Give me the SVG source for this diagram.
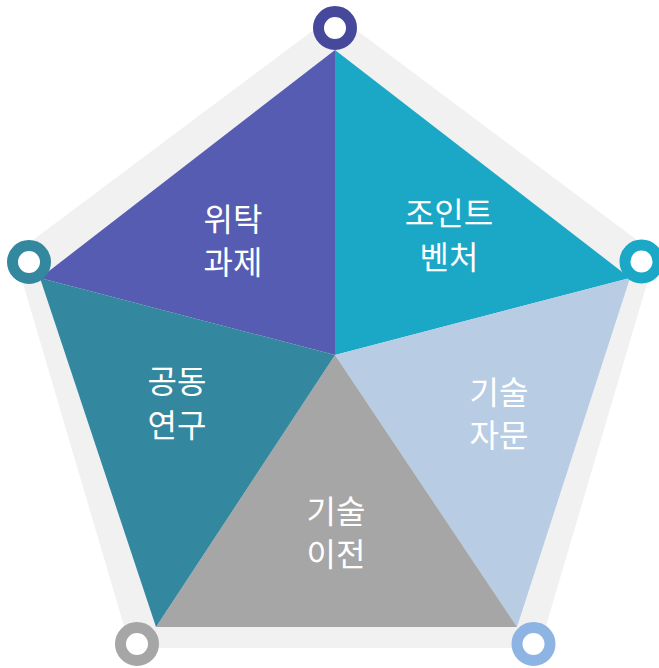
<svg xmlns="http://www.w3.org/2000/svg" width="659" height="668" viewBox="0 0 659 668">
<style>
.lbl{font-family:"Noto Sans CJK KR","Noto Sans",sans-serif;font-size:32px;fill:#ffffff;text-anchor:middle}
.ring{fill:#ffffff;stroke-width:11}
</style>
<rect width="659" height="668" fill="#ffffff"/>
<g id="frame">
<polygon points="335,14 655.7,254 539.5,648 130.5,648 14.3,254" fill="#f1f1f1"/>
</g>
<g id="seg-witak">
<polygon points="335,50 335,355 40,278" fill="#565cb2"/>
<text class="lbl" x="233" y="231">위탁</text>
<text class="lbl" x="233" y="274">과제</text>
</g>
<g id="seg-joint">
<polygon points="335,50 630,278 335,355" fill="#1ba8c6"/>
<text class="lbl" x="449" y="225">조인트</text>
<text class="lbl" x="449" y="269">벤처</text>
</g>
<g id="seg-jamun">
<polygon points="335,355 630,278 517,627" fill="#b8cce4"/>
<text class="lbl" x="499" y="404">기술</text>
<text class="lbl" x="499" y="447">자문</text>
</g>
<g id="seg-ijeon">
<polygon points="335,355 517,627 156,627" fill="#a6a6a6"/>
<text class="lbl" x="336" y="523">기술</text>
<text class="lbl" x="336" y="566">이전</text>
</g>
<g id="seg-gongdong">
<polygon points="335,355 156,627 40,278" fill="#33879e"/>
<text class="lbl" x="177" y="393">공동</text>
<text class="lbl" x="177" y="437">연구</text>
</g>
<g id="connectors"></g>
<g id="dot-top"><circle class="ring" cx="335" cy="28" r="16.5" stroke="#46489b"/></g>
<g id="dot-right"><circle class="ring" cx="641.5" cy="261.5" r="16.5" stroke="#1ba8c6"/></g>
<g id="dot-left"><circle class="ring" cx="29" cy="262" r="16.5" stroke="#33879e"/></g>
<g id="dot-bl"><circle class="ring" cx="137" cy="644" r="16.5" stroke="#a6a6a6"/></g>
<g id="dot-br"><circle class="ring" cx="533.5" cy="644" r="16.5" stroke="#8eb4e3"/></g>
</svg>
